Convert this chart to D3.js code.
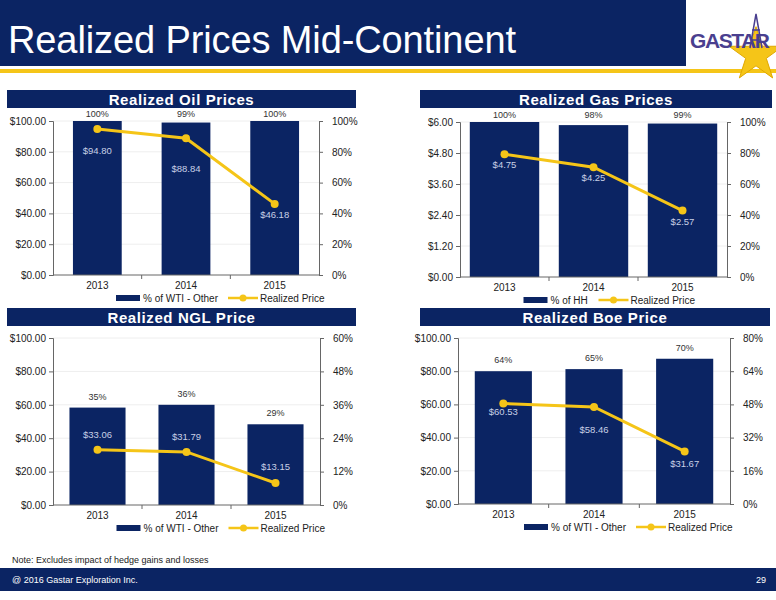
<!DOCTYPE html>
<html><head><meta charset="utf-8">
<script src="https://cdn.jsdelivr.net/npm/d3@7"></script>
<style>body{margin:0;background:#fff}svg{display:block;font-family:Arial,"Liberation Sans",sans-serif}</style>
</head><body>
<svg id="c" width="776" height="600"></svg>
<script>
var years = ["2013", "2014", "2015"];

var oilPct = [100, 99, 100];
var oilPrice = [94.80, 88.84, 46.18];
var gasPct = [100, 98, 99];
var gasPrice = [4.75, 4.25, 2.57];
var nglPct = [35, 36, 29];
var nglPrice = [33.06, 31.79, 13.15];
var boePct = [64, 65, 70];
var boePrice = [60.53, 58.46, 31.67];

var oilLeftTicks = [0, 20, 40, 60, 80, 100];
var oilRightTicks = [0, 20, 40, 60, 80, 100];
var gasLeftTicks = [0, 1.2, 2.4, 3.6, 4.8, 6];
var gasRightTicks = [0, 20, 40, 60, 80, 100];
var nglLeftTicks = [0, 20, 40, 60, 80, 100];
var nglRightTicks = [0, 12, 24, 36, 48, 60];
var boeLeftTicks = [0, 20, 40, 60, 80, 100];
var boeRightTicks = [0, 16, 32, 48, 64, 80];

var NAVY = "#0b2463", GOLD = "#f5c518";
var svg = d3.select("#c");

// header
svg.append("rect").attr("x", 0).attr("y", 0).attr("width", 686).attr("height", 66).attr("fill", NAVY);
svg.append("rect").attr("x", 0).attr("y", 69).attr("width", 776).attr("height", 4).attr("fill", GOLD);
svg.append("text").attr("x", 8).attr("y", 53).attr("fill", "#fff").attr("font-size", 38)
  .attr("textLength", 508).text("Realized Prices Mid-Continent");
// logo
var star = d3.symbol().type(d3.symbolStar).size(900);
svg.append("path").attr("d", star()).attr("transform", "translate(756,55)").attr("fill", GOLD).attr("stroke", "#e0a800");
svg.append("text").attr("x", 690).attr("y", 48).attr("fill", "#4a3f8f").attr("font-size", 21)
  .attr("font-weight", "bold").attr("textLength", 80).text("GASTAR");
svg.append("path").attr("d", "M750,48 L756,14 L762,48 M752,30 L760,30 M751,40 L761,40")
  .attr("stroke", "#4a3f8f").attr("stroke-width", 1.5).attr("fill", "none");

function chart(o) {
  var g = svg.append("g");
  g.append("rect").attr("x", o.hx).attr("y", o.hy).attr("width", o.hw).attr("height", 18).attr("fill", NAVY);
  g.append("text").attr("x", o.hx + o.hw / 2).attr("y", o.hy + 15).attr("text-anchor", "middle")
    .attr("fill", "#fff").attr("font-size", 15).attr("font-weight", "bold").attr("letter-spacing", 0.6).text(o.title);

  var x = d3.scaleBand().domain(years).range([o.l, o.r]).paddingInner(o.pad).paddingOuter(o.pad / 2);
  var yl = d3.scaleLinear().domain([0, d3.max(o.lt)]).range([o.b, o.t]);
  var yr = d3.scaleLinear().domain([0, d3.max(o.rt)]).range([o.b, o.t]);

  g.selectAll(".grid").data(o.lt.slice(1)).enter().append("line")
    .attr("x1", o.l).attr("x2", o.r).attr("y1", yl).attr("y2", yl).attr("stroke", "#eee");

  g.selectAll(".bar").data(o.pct).enter().append("rect")
    .attr("x", function (d, i) { return x(years[i]); }).attr("width", x.bandwidth())
    .attr("y", function (d) { return yr(d); }).attr("height", function (d) { return o.b - yr(d); })
    .attr("fill", NAVY);
  g.selectAll(".pl").data(o.pct).enter().append("text")
    .attr("x", function (d, i) { return x(years[i]) + x.bandwidth() / 2; })
    .attr("y", function (d) { return Math.max(yr(d) - 8, o.t - 4); })
    .attr("text-anchor", "middle").attr("font-size", 9).attr("fill", "#333").text(function (d) { return d + "%"; });

  var line = d3.line().x(function (d, i) { return x(years[i]) + x.bandwidth() / 2; }).y(function (d) { return yl(d); });
  g.append("path").attr("d", line(o.price)).attr("fill", "none").attr("stroke", GOLD).attr("stroke-width", 3);
  g.selectAll(".pt").data(o.price).enter().append("circle")
    .attr("cx", function (d, i) { return x(years[i]) + x.bandwidth() / 2; }).attr("cy", yl).attr("r", 4).attr("fill", GOLD);
  g.selectAll(".vl").data(o.price).enter().append("text")
    .attr("x", function (d, i) { return x(years[i]) + x.bandwidth() / 2; })
    .attr("y", function (d, i) { return yl(d) + o.dy[i]; })
    .attr("text-anchor", "middle").attr("font-size", 9.5).attr("fill", "#c8d0e6").text(function (d) { return "$" + d.toFixed(2); });

  var ax1 = g.append("g").attr("transform", "translate(" + o.l + ",0)")
    .call(d3.axisLeft(yl).tickValues(o.lt).tickSize(4).tickFormat(function (d) { return "$" + d.toFixed(2); }));
  var ax2 = g.append("g").attr("transform", "translate(" + o.r + ",0)")
    .call(d3.axisRight(yr).tickValues(o.rt).tickSize(4).tickFormat(function (d) { return d + "%"; }));
  var ax3 = g.append("g").attr("transform", "translate(0," + o.b + ")")
    .call(d3.axisBottom(x).tickSize(0).tickPadding(7));
  [ax1, ax2, ax3].forEach(function (a) {
    a.selectAll("path").attr("stroke", "#666");
    a.selectAll("line").attr("stroke", "#666");
    a.selectAll("text").attr("font-size", 10).attr("fill", "#222");
  });
  ax2.selectAll("text").attr("dx", 6);
  ax3.select("path").attr("d", "M" + o.l + ",0H" + o.r);
  years.slice(1).forEach(function (yv) {
    var xx = x(yv) - x.step() * x.paddingInner() / 2;
    ax3.append("line").attr("x1", xx).attr("x2", xx).attr("y1", 0).attr("y2", 4).attr("stroke", "#666");
  });

  var lx = (o.l + o.r) / 2 - 70, ly = o.b + 23;
  g.append("rect").attr("x", lx).attr("y", ly - 3).attr("width", 24).attr("height", 6).attr("fill", NAVY);
  g.append("text").attr("x", lx + 27).attr("y", ly + 4).attr("font-size", 10).attr("fill", "#222").text(o.legend);
  var lx2 = lx + o.lg;
  g.append("line").attr("x1", lx2).attr("x2", lx2 + 30).attr("y1", ly).attr("y2", ly).attr("stroke", GOLD).attr("stroke-width", 2.5);
  g.append("circle").attr("cx", lx2 + 15).attr("cy", ly).attr("r", 3.5).attr("fill", GOLD);
  g.append("text").attr("x", lx2 + 32).attr("y", ly + 4).attr("font-size", 10).attr("fill", "#222").text("Realized Price");
}

chart({title: "Realized Oil Prices", hx: 7, hy: 90, hw: 349, l: 53, r: 319, t: 121, b: 275, pad: 0.45,
  pct: oilPct, price: oilPrice, lt: oilLeftTicks, rt: oilRightTicks, dy: [25, 34, 14], legend: "% of WTI - Other", lg: 112});
chart({title: "Realized Gas Prices", hx: 420, hy: 90, hw: 352, l: 460, r: 727, t: 122, b: 277, pad: 0.22,
  pct: gasPct, price: gasPrice, lt: gasLeftTicks, rt: gasRightTicks, dy: [14, 14, 14], legend: "% of HH", lg: 75});
chart({title: "Realized NGL Price", hx: 7, hy: 308, hw: 349, l: 53, r: 320, t: 338, b: 505, pad: 0.37,
  pct: nglPct, price: nglPrice, lt: nglLeftTicks, rt: nglRightTicks, dy: [-12, -12, -13], legend: "% of WTI - Other", lg: 112});
chart({title: "Realized Boe Price", hx: 420, hy: 308, hw: 350, l: 458, r: 730, t: 338, b: 504, pad: 0.37,
  pct: boePct, price: boePrice, lt: boeLeftTicks, rt: boeRightTicks, dy: [11, 26, 16], legend: "% of WTI - Other", lg: 112});

svg.append("text").attr("x", 12).attr("y", 563).attr("font-size", 9).attr("fill", "#222")
  .text("Note: Excludes impact of hedge gains and losses");
svg.append("rect").attr("x", 0).attr("y", 568).attr("width", 776).attr("height", 23).attr("fill", NAVY);
svg.append("text").attr("x", 12).attr("y", 583).attr("font-size", 9).attr("fill", "#fff").text("@ 2016 Gastar Exploration Inc.");
svg.append("text").attr("x", 766).attr("y", 583).attr("font-size", 9).attr("fill", "#fff").attr("text-anchor", "end").text("29");
</script>
</body></html>
